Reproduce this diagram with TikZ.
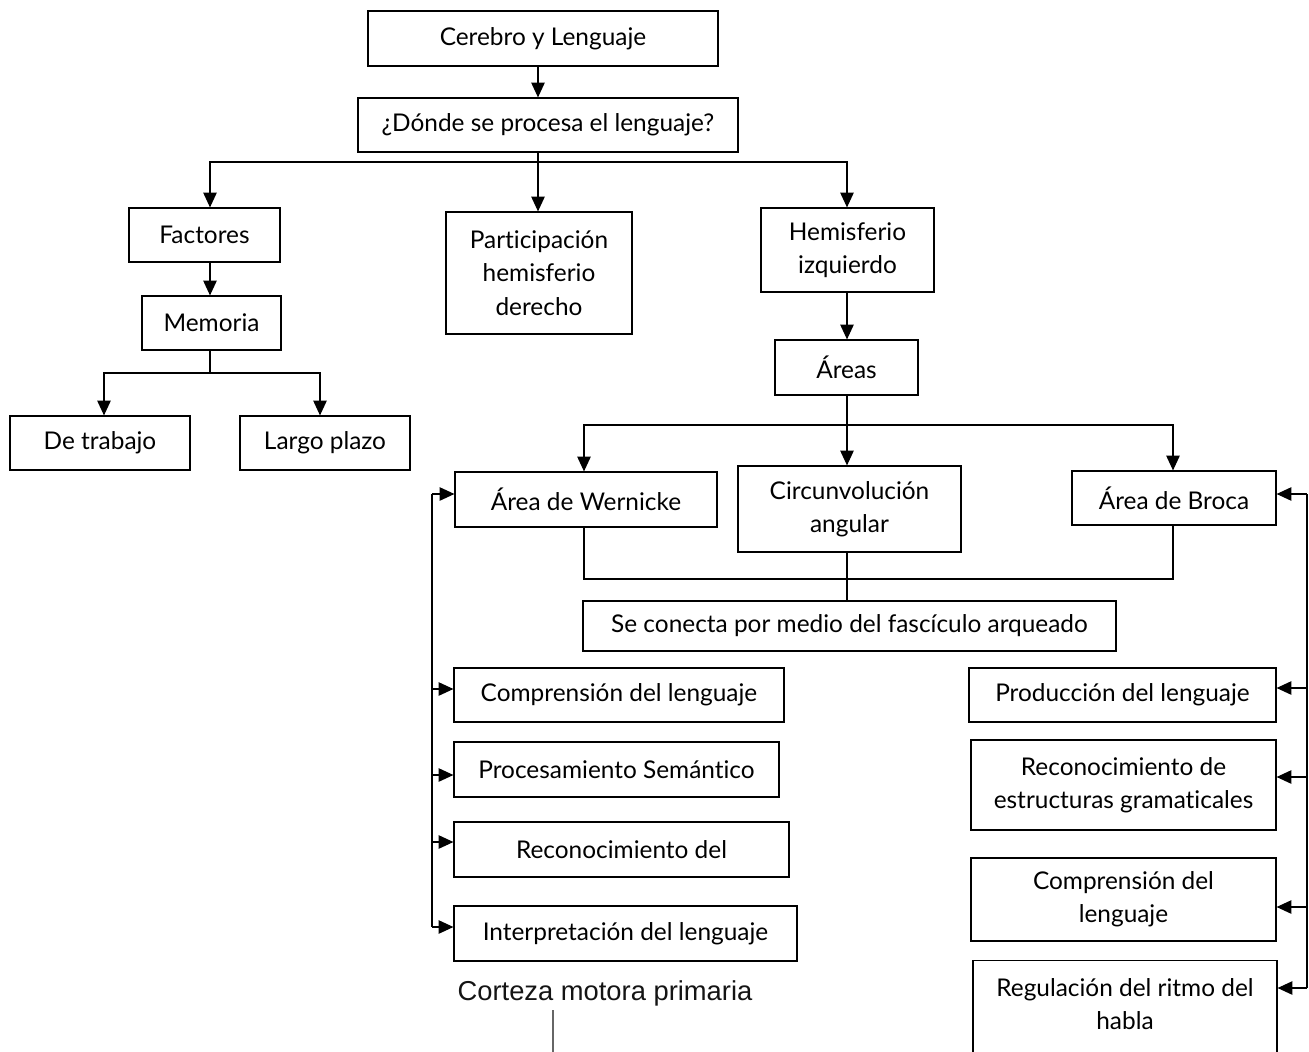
\documentclass[tikz,border=0pt]{standalone}
\usepackage{fontspec}
\setmainfont{Lato}[Ligatures=NoCommon]
\newfontfamily\helv{Liberation Sans}
\usetikzlibrary{arrows.meta}
\tikzset{
  box/.style={draw, line width=0.9pt, inner sep=0pt, align=center,
    font=\fontsize{18.3}{25}\selectfont},
  arr/.style={line width=0.9pt, -{Triangle[length=11pt,width=10pt]}},
  ln/.style={line width=0.9pt},
}
\newcommand\bx[6]{\node[box, minimum width={(#4-#2)*0.75pt}, minimum height={(#5-#3)*0.75pt}] (#1) at ({(#2+#4)/2},{(#3+#5)/2}) {#6};}
\begin{document}
\begin{tikzpicture}[x=0.75pt,y=-0.75pt]
\useasboundingbox[fill=white] (0,0) rectangle (1309,1052);
\bx{cer}{368}{11}{718}{66}{Cerebro y Lenguaje}
\bx{don}{358}{98}{738}{152}{¿Dónde se procesa el lenguaje?}
\bx{fac}{129}{208}{280}{262}{Factores}
\bx{par}{446}{212}{632}{334}{Participación\\hemisferio\\derecho}
\bx{hem}{761}{208}{934}{292}{Hemisferio\\izquierdo}
\bx{mem}{142}{296}{281}{350}{Memoria}
\bx{tra}{10}{416}{190}{470}{De trabajo}
\bx{lar}{240}{416}{410}{470}{Largo plazo}
\bx{are}{775}{340}{918}{395}{Áreas}
\bx{wer}{455}{472}{717}{527}{Área de Wernicke}
\bx{cir}{738}{466}{961}{552}{Circunvolución\\angular}
\bx{bro}{1072}{471}{1276}{525}{Área de Broca}
\bx{con}{583}{601}{1116}{651}{Se conecta por medio del fascículo arqueado}
\bx{lc}{454}{668}{784}{722}{Comprensión del lenguaje}
\bx{lp}{454}{742}{779}{797}{Procesamiento Semántico}
\bx{lr}{454}{822}{789}{877}{Reconocimiento del}
\bx{li}{454}{906}{797}{961}{Interpretación del lenguaje}
\bx{rp}{969}{668}{1276}{722}{Producción del lenguaje}
\bx{rr}{971}{740}{1276}{830}{Reconocimiento de\\estructuras gramaticales}
\bx{rc}{971}{858}{1276}{941}{Comprensión del\\lenguaje}
\node[draw, line width=0.9pt, minimum width={304*0.75pt}, minimum height={120*0.75pt}, anchor=north, inner sep=0pt] (rg) at (1125,960) {};
\node[box, draw=none] (rgt) at (1125,1004) {Regulación del ritmo del\\habla};
% top connectors
\coordinate (c0) at (538,66);
\draw[arr] (c0) -- (don.north -| c0);
\coordinate (h1) at (538,162);
\draw[ln] (don.south -| h1) -- (h1);
\draw[arr] (h1) -- (par.north -| h1);
\draw[arr] (h1) -| (fac.north -| 210,0);
\draw[arr] (h1) -| (hem.north -| 847,0);
\draw[arr] (fac.south -| 210,0) -- (mem.north -| 210,0);
\coordinate (m1) at (210,373);
\draw[ln] (mem.south -| m1) -- (m1);
\draw[arr] (m1) -| (tra.north -| 104,0);
\draw[arr] (m1) -| (lar.north -| 320,0);
\draw[arr] (hem.south -| 847,0) -- (are.north -| 847,0);
\coordinate (a1) at (847,425);
\draw[ln] (are.south -| a1) -- (a1);
\draw[arr] (a1) -- (cir.north -| a1);
\draw[arr] (a1) -| (wer.north -| 584,0);
\draw[arr] (a1) -| (bro.north -| 1173,0);
\coordinate (b1) at (847,579);
\draw[ln] (wer.south -| 584,0) |- (b1) -| (bro.south -| 1173,0);
\draw[ln] (cir.south -| b1) -- (con.north -| b1);
% left bracket
\coordinate (L1) at (432,494);
\coordinate (L2) at (432,689);
\coordinate (L3) at (432,775);
\coordinate (L4) at (432,842);
\coordinate (L5) at (432,927);
\draw[ln] (L1) -- (L5);
\draw[arr] (L1) -- (wer.west |- L1);
\draw[arr] (L2) -- (lc.west |- L2);
\draw[arr] (L3) -- (lp.west |- L3);
\draw[arr] (L4) -- (lr.west |- L4);
\draw[arr] (L5) -- (li.west |- L5);
% right bracket
\coordinate (R1) at (1307,494);
\coordinate (R2) at (1307,688);
\coordinate (R3) at (1307,777);
\coordinate (R4) at (1307,907);
\coordinate (R5) at (1307,988);
\draw[ln] (R1) -- (R5);
\draw[arr] (R1) -- (bro.east |- R1);
\draw[arr] (R2) -- (rp.east |- R2);
\draw[arr] (R3) -- (rr.east |- R3);
\draw[arr] (R4) -- (rc.east |- R4);
\draw[arr] (R5) -- (rg.east |- R5);
% bottom fragment
\node[font=\helv\fontsize{20.5}{24}\selectfont, text=black!92, inner sep=0pt] (cor) at (605,993) {Corteza motora primaria};
\coordinate (g1) at (553,1052);
\draw[line width=1.1pt, black!60] (553,1010) -- (g1);
\end{tikzpicture}
\end{document}
